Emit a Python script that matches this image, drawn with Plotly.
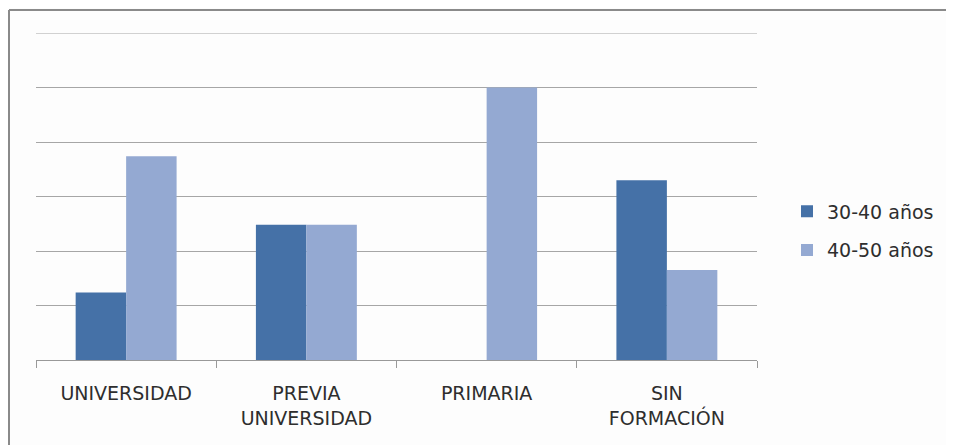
import plotly.graph_objects as go

categories = ["UNIVERSIDAD", "PREVIA<br>UNIVERSIDAD", "PRIMARIA", "SIN<br>FORMACIÓN"]
series_names = ["30-40 años", "40-50 años"]
values_30_40 = [1.24, 2.48, 0, 3.30]
values_40_50 = [3.74, 2.48, 5.0, 1.65]
colors = ["#4571A7", "#94A9D2"]

fig = go.Figure()
for name, vals, col in zip(series_names, [values_30_40, values_40_50], colors):
    fig.add_trace(go.Bar(x=categories, y=vals, name=name, legendgroup=name,
                         marker=dict(color=col, line=dict(width=0))))

OFF = 8  # page body margin
W, H = 954 - OFF, 445 - OFF
# desired page-coordinate plot area: x 36..757, y 33..360
L, R = 36 - OFF, 954 - 757
T, B = 33 - OFF, 445 - 360
pw, ph = W - L - R, H - T - B

def px(x):
    return (x - OFF - L) / pw

def py(y):
    return (H - B - (y - OFF)) / ph

fig.update_layout(
    width=W, height=H,
    margin=dict(l=L, r=R, t=T, b=B, pad=0),
    paper_bgcolor="#fdfdfd", plot_bgcolor="#fdfdfd",
    barmode="group", bargap=0.44, bargroupgap=0,
    font=dict(family="DejaVu Sans", size=19, color="#2e2e2e"),
    showlegend=True,
    legend=dict(x=px(787), y=py(231), xanchor="left", yanchor="middle",
                font=dict(size=19, color="#2e2e2e"), bgcolor="rgba(0,0,0,0)",
                tracegroupgap=11, traceorder="grouped"),
    xaxis=dict(type="category", tickson="boundaries", ticks="outside", ticklen=7,
               tickcolor="#999999", showline=True, linecolor="#999999", linewidth=1,
               showgrid=False, ticklabelstandoff=16, tickfont=dict(size=19, color="#2e2e2e")),
    yaxis=dict(range=[0, 6], dtick=1, showgrid=True, gridcolor="#a6a6a6", gridwidth=1,
               showticklabels=False, zeroline=False, showline=False, ticks=""),
    shapes=[
        dict(type="line", xref="paper", yref="y", x0=0, x1=1, y0=6, y1=6,
             line=dict(color="#a6a6a6", width=1)),
        dict(type="line", xref="paper", yref="paper", x0=px(9), x1=px(970), y0=py(10), y1=py(10),
             line=dict(color="#8a8a8a", width=2)),
        dict(type="line", xref="paper", yref="paper", x0=px(9), x1=px(9), y0=py(10), y1=py(460),
             line=dict(color="#8a8a8a", width=2)),
    ],
)

fig.write_html("out.html")
